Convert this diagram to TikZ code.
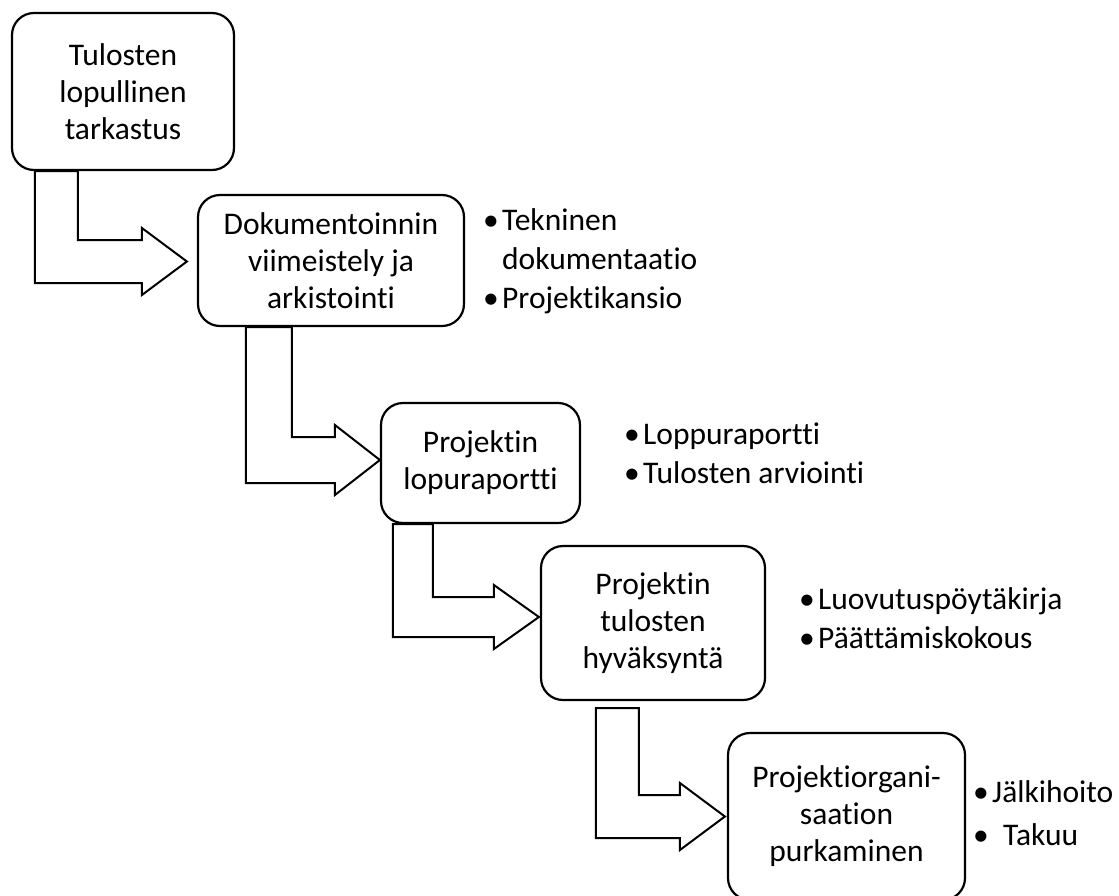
\documentclass[tikz,border=0pt]{standalone}
\usepackage{fontspec}
\setmainfont{Carlito}[Ligatures={NoCommon,NoRare}]
\usetikzlibrary{calc}
\tikzset{
  phase/.style={draw, line width=2.2pt, rounded corners=22pt, align=center, inner sep=0pt,
    font=\fontsize{31.5}{37}\selectfont},
  items/.style={anchor=base west, align=left, inner sep=0pt, font=\fontsize{31.5}{39}\selectfont},
  stepline/.style={draw, line width=2pt, line join=miter}
}
\newcommand{\bul}{\makebox[19pt][l]{\textbullet}}
% hollow L-shaped block arrow: start of outer shaft, tip, shaft width
\newcommand{\stepdown}[3]{
  \coordinate (sd-s) at (#1);
  \coordinate (sd-t) at (#2);
  \draw[stepline] (sd-s) |- ($(sd-t)+(-45,#3/2)$) -- ++(0,12) -- (sd-t)
    -- ($(sd-t)+(-45,-#3/2-12)$) -- ++(0,12) -| ($(sd-s)+(#3,0)$) -- cycle;
}
\begin{document}
\begin{tikzpicture}[x=1pt,y=-1pt]
\useasboundingbox (0,0) rectangle (1119,895);
%phases
\node[phase, minimum width=222pt, minimum height=157pt] (b1) at (123,91.5) {Tulosten\\lopullinen\\tarkastus};
\node[phase, minimum width=266pt, minimum height=131pt] (b2) at (331,260.5) {Dokumentoinnin\\viimeistely ja\\arkistointi};
\node[phase, minimum width=199pt, minimum height=120pt] (b3) at (480.5,463) {Projektin\\lopuraportti};
\node[phase, minimum width=224pt, minimum height=154pt] (b4) at (653,623) {Projektin\\tulosten\\hyväksyntä};
\node[phase, minimum width=237pt, minimum height=167pt] (b5) at (846.5,816.5) {Projektiorgani-\\saation\\purkaminen};
%lists (base = last line)
\node[items] (l2) at (483,308) {\bul Tekninen\\\hspace{19pt}dokumentaatio\\\bul Projektikansio};
\node[items] (l3) at (624,483) {\bul Loppuraportti\\\bul Tulosten arviointi};
\node[items] (l4) at (799,648) {\bul Luovutuspöytäkirja\\\bul Päättämiskokous};
\node[items] (l5) at (973,845) {\bul Jälkihoito\\[4pt]\bul\hspace{11pt}Takuu};
%arrows
\stepdown{$(b1.south west)+(24,0)$}{$(b2.west)+(-10,1)$}{43}
\stepdown{$(b2.south west)+(49,0)$}{$(b3.west)+(0,-3)$}{46}
\stepdown{$(b3.south west)+(13,0)$}{$(b4.west)+(-1,-6)$}{40}
\stepdown{$(b4.south west)+(56,7)$}{$(b5.west)+(-2,0)$}{43}
\end{tikzpicture}
\end{document}
